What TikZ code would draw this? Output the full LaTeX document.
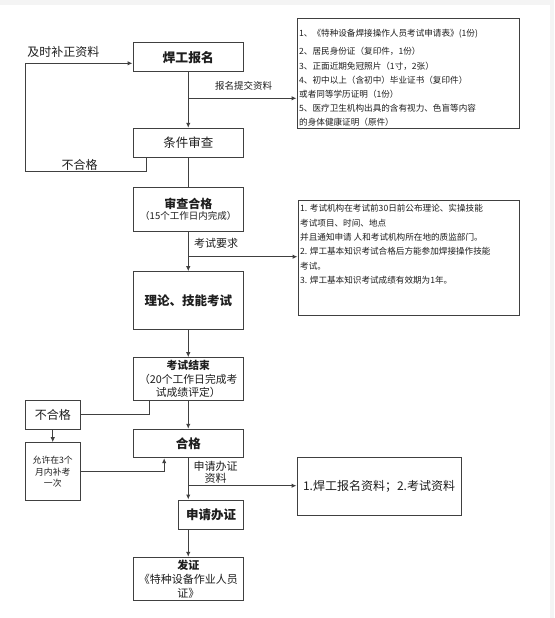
\documentclass[tikz,border=0pt]{standalone}
\usepackage{fontspec}
\setmainfont{Noto Sans CJK SC}
\usetikzlibrary{arrows.meta}
\definecolor{ln}{HTML}{404040}
\definecolor{tx}{HTML}{1E1E1E}
\tikzset{
  box/.style={draw=ln, line width=1pt, inner sep=0pt, align=center, text=tx},
  conn/.style={draw=ln, line width=1pt},
  arr/.style={conn, -{Latex[length=5pt,width=4.5pt]}},
  lbl/.style={inner sep=0pt, text=tx, align=center},
  rt/.style={inner sep=0pt, text=tx, anchor=west, font=\fontsize{8.6}{10}\selectfont},
}
\begin{document}
\begin{tikzpicture}[x=1pt,y=-1pt]
\useasboundingbox (0,0) rectangle (554,618);
\fill[white] (0,0) rectangle (554,618);
\fill[gray!9] (0,0) rectangle (554,5);
\fill[gray!9] (550,0) rectangle (554,618);

% main column boxes
\node[box, minimum width=110.5pt, minimum height=29pt, font=\fontsize{12.8}{15}\selectfont\bfseries] (b1) at (188.25,57.2) {焊工报名};
\node[box, minimum width=110.5pt, minimum height=29pt, font=\fontsize{12.5}{15}\selectfont] (b2) at (188.25,142.8) {条件审查};
\node[box, minimum width=110.5pt, minimum height=44.4pt] (b3) at (188.25,209.5)
  {{\fontsize{12}{13}\selectfont\bfseries 审查合格}\\[-1pt]{\fontsize{9.5}{11}\selectfont （15个工作日内完成）}};
\node[box, minimum width=110.5pt, minimum height=57.3pt, font=\fontsize{12.5}{15}\selectfont\bfseries] (b4) at (188.25,300.35) {理论、技能考试};
\node[box, minimum width=110.5pt, minimum height=43pt, font=\fontsize{10.8}{13.6}\selectfont] (b5) at (188.25,379.2)
  {{\bfseries 考试结束}\\（20个工作日完成考\\试成绩评定）};
\node[box, minimum width=54.5pt, minimum height=28.3pt, font=\fontsize{12}{14}\selectfont] (ng) at (52.75,414.85) {不合格};
\node[box, minimum width=54.5pt, minimum height=58pt, font=\fontsize{8.8}{11.4}\selectfont] (al) at (52.75,471.7) {允许在3个\\月内补考\\一次};
\node[box, minimum width=110.5pt, minimum height=28.4pt, font=\fontsize{12.5}{15}\selectfont\bfseries] (hg) at (188.25,443.5) {合格};
\node[box, minimum width=64.7pt, minimum height=29.3pt, font=\fontsize{12.5}{15}\selectfont\bfseries] (sq) at (211.15,514.65) {申请办证};
\node[box, minimum width=110.5pt, minimum height=43.4pt, font=\fontsize{11}{13.8}\selectfont] (fz) at (188.25,579)
  {{\bfseries 发证}\\《特种设备作业人员\\证》};

% right boxes
\node[box, minimum width=222pt, minimum height=109pt] (r1) at (408,73.5) {};
\node[box, minimum width=221pt, minimum height=115pt] (r2) at (408.5,257.5) {};
\node[box, minimum width=164pt, minimum height=57.3pt, font=\fontsize{12}{14}\selectfont] (r3) at (379,486.35) {1.焊工报名资料；2.考试资料};

% right box 1 text
\node[rt] (r1a) at (299,33.3) {1、《特种设备焊接操作人员考试申请表》(1份)};
\node[rt] (r1b) at (299,51.7) {2、居民身份证（复印件，1份）};
\node[rt] (r1c) at (299,65.9) {3、正面近期免冠照片（1寸，2张）};
\node[rt] (r1d) at (299,80.1) {4、初中以上（含初中）毕业证书（复印件）};
\node[rt] (r1e) at (299,94.3) {或者同等学历证明（1份）};
\node[rt] (r1f) at (299,108.5) {5、医疗卫生机构出具的含有视力、色盲等内容};
\node[rt] (r1g) at (299,122.5) {的身体健康证明（原件）};

% right box 2 text
\node[rt] (r2a) at (300,208.5) {1. 考试机构在考试前30日前公布理论、实操技能};
\node[rt] (r2b) at (300,223.3) {考试项目、时间、地点};
\node[rt] (r2c) at (300,237.5) {并且通知申请 人和考试机构所在地的质监部门。};
\node[rt] (r2d) at (300,251.7) {2. 焊工基本知识考试合格后方能参加焊接操作技能};
\node[rt] (r2e) at (300,266) {考试。};
\node[rt] (r2f) at (300,280) {3. 焊工基本知识考试成绩有效期为1年。};

% labels
\node[lbl, font=\fontsize{12}{14}\selectfont] (t1) at (63.3,51.7) {及时补正资料};
\node[lbl, font=\fontsize{12}{14}\selectfont] (t2) at (79.5,165) {不合格};
\node[lbl, font=\fontsize{9.5}{11}\selectfont] (t3) at (243.7,86) {报名提交资料};
\node[lbl, font=\fontsize{11}{13}\selectfont] (t4) at (216,243.3) {考试要求};
\node[lbl, font=\fontsize{11}{12.3}\selectfont] (t5) at (215.5,472) {申请办证\\资料};

% coordinates
\coordinate (j1) at (188.25,98.3);
\coordinate (j2) at (188.25,256.7);
\coordinate (j3) at (188.25,485.7);
\coordinate (lb) at (146.5,171.7);
\coordinate (lt) at (25.5,63.3);
\coordinate (k1) at (149.4,414.85);
\coordinate (k2) at (164.2,471.7);

% connectors
\draw[arr] (b1.south) -- (b2.north);
\draw[arr] (j1) -- (j1 -| r1.west);
\draw[arr] (lb |- b2.south) -- (lb) -| (lt) -- (lt -| b1.west);
\draw[conn] (b2.south) -- (b3.north);
\draw[arr] (b3.south) -- (b4.north);
\draw[arr] (j2) -- (j2 -| r2.west);
\draw[arr] (b4.south) -- (b5.north);
\draw[conn] (k1 |- b5.south) -- (k1) -- (ng.east);
\draw[arr] (b5.south) -- (hg.north);
\draw[arr] (ng.south) -- (al.north);
\draw[arr] (al.east) -- (k2) -- (k2 |- hg.south);
\draw[arr] (hg.south) -- (hg.south |- sq.north);
\draw[arr] (j3) -- (j3 -| r3.west);
\draw[arr] (fz.north |- sq.south) -- (fz.north);
\end{tikzpicture}
\end{document}
